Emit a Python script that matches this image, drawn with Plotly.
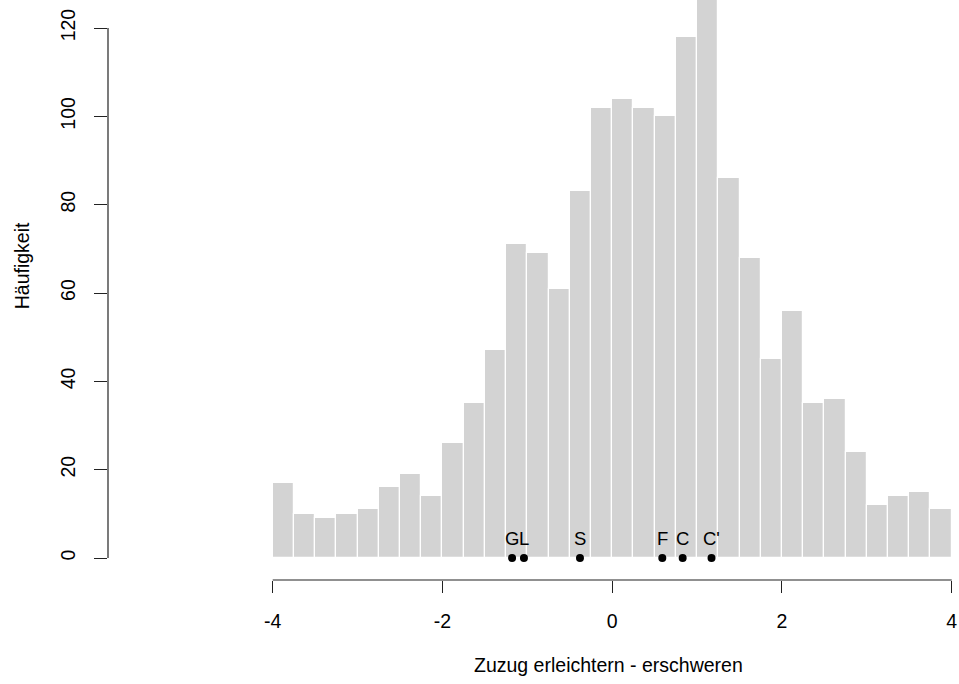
import plotly.graph_objects as go

# Histogram bins (width 0.25 from -4 to 4) and their counts
bin_left = [-4 + 0.25 * i for i in range(32)]
counts = [17, 10, 9, 10, 11, 16, 19, 14, 26, 35, 47, 71, 69, 61, 83, 102,
          104, 102, 100, 118, 130, 86, 68, 45, 56, 35, 36, 24, 12, 14, 15, 11]

# Marked positions on the scale
marker_labels = ["G", "L", "S", "F", "C", "C'"]
marker_values = [-1.18, -1.04, -0.38, 0.59, 0.83, 1.17]

x_ticks = [-4, -2, 0, 2, 4]
y_ticks = [0, 20, 40, 60, 80, 100, 120]

FONT = "Liberation Sans, Arial, sans-serif"
AXIS_COLOR = "#222222"

fig = go.Figure()

fig.add_trace(go.Bar(
    x=[b + 0.125 for b in bin_left],
    y=counts,
    width=0.25,
    marker=dict(color="#D3D3D3", line=dict(color="white", width=1.2)),
    hoverinfo="x+y",
    showlegend=False,
))

fig.add_trace(go.Scatter(
    x=marker_values,
    y=[0] * len(marker_values),
    mode="markers",
    marker=dict(color="black", size=8),
    showlegend=False,
))

annotations = []
for lab, v in zip(marker_labels, marker_values):
    annotations.append(dict(
        x=v, y=0, xref="x", yref="y", text=lab, showarrow=False,
        yanchor="middle", yshift=20,
        font=dict(family=FONT, size=18.5, color="black"),
    ))

annotations.append(dict(
    x=0.5887, y=-0.1466, xref="paper", yref="paper",
    text="Zuzug erleichtern - erschweren", showarrow=False,
    xanchor="center", yanchor="middle",
    font=dict(family=FONT, size=19.5, color="black"),
))
annotations.append(dict(
    x=-0.101, y=0.541, xref="paper", yref="paper",
    text="Häufigkeit", showarrow=False, textangle=-90,
    xanchor="center", yanchor="middle",
    font=dict(family=FONT, size=19.5, color="black"),
))

shapes = [
    # x axis line spanning the tick range
    dict(type="line", xref="x", yref="paper", x0=x_ticks[0], x1=x_ticks[-1],
         y0=0, y1=0, line=dict(color=AXIS_COLOR, width=1.2)),
    # y axis line spanning the tick range
    dict(type="line", xref="paper", yref="y", x0=0, x1=0,
         y0=y_ticks[0], y1=y_ticks[-1], line=dict(color=AXIS_COLOR, width=1.2)),
]

fig.update_layout(
    width=959, height=684,
    margin=dict(l=108, r=0, t=0, b=104),
    paper_bgcolor="white", plot_bgcolor="white",
    bargap=0,
    font=dict(family=FONT, size=19, color="black"),
    annotations=annotations,
    shapes=shapes,
    xaxis=dict(
        range=[-5.941, 4.086], showgrid=False, zeroline=False, showline=False,
        tickmode="array", tickvals=x_ticks, ticktext=[str(t) for t in x_ticks],
        ticks="outside", ticklen=12, tickwidth=1.2, tickcolor=AXIS_COLOR,
        ticklabelstandoff=12,
        tickfont=dict(family=FONT, size=19.5, color="black"),
    ),
    yaxis=dict(
        range=[-4.981, 126.34], showgrid=False, zeroline=False, showline=False,
        tickmode="array", tickvals=y_ticks, ticktext=[str(t) for t in y_ticks],
        ticks="outside", ticklen=13, tickwidth=1.2, tickcolor=AXIS_COLOR,
        tickangle=-90, ticklabelstandoff=11,
        tickfont=dict(family=FONT, size=19.5, color="black"),
    ),
)

fig.write_html("out.html")
